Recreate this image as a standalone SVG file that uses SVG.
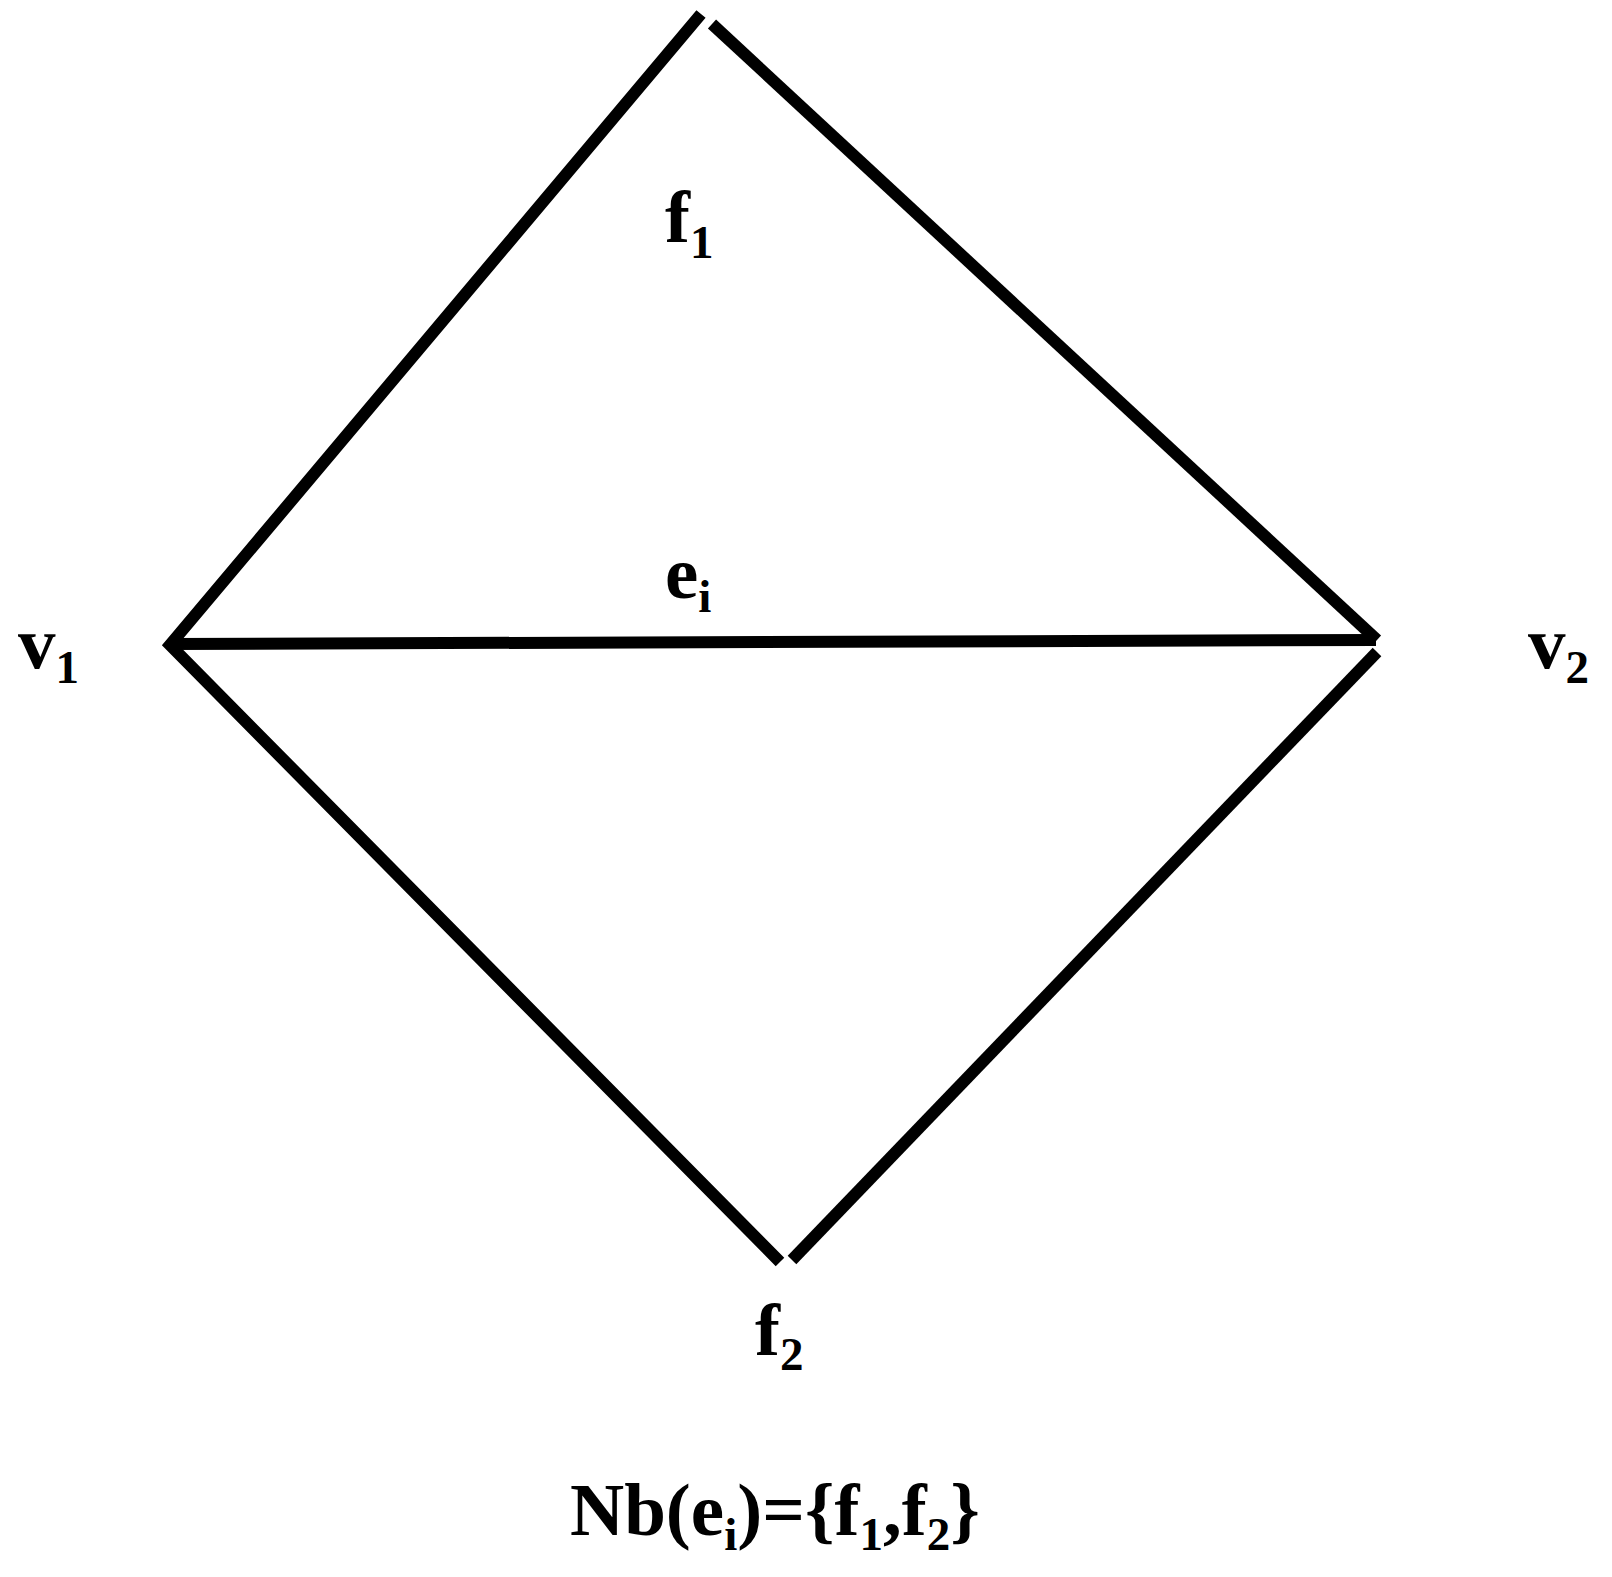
<svg xmlns="http://www.w3.org/2000/svg" width="1612" height="1577" viewBox="0 0 1612 1577">
<style>
.e{stroke:#000;stroke-width:12;fill:none;stroke-linecap:butt;stroke-linejoin:miter}
.t{font-family:"Liberation Serif","Times New Roman",serif;font-weight:bold;font-size:75px;fill:#000}
.s{font-size:47px}
</style>
<rect width="1612" height="1577" fill="#fff"/>
<g id="connectors">
<polyline class="e" points="701,14 170,645 780,1262"/>
<line class="e" x1="712" y1="24" x2="1377" y2="640"/>
<line class="e" x1="1377" y1="652" x2="792" y2="1260"/>
<line class="e" x1="170" y1="644" x2="1376" y2="640"/>
</g>
<g id="v1"><text class="t" x="18" y="668">v<tspan class="s" dy="15">1</tspan></text></g>
<g id="v2"><text class="t" x="1528" y="668">v<tspan class="s" dy="15">2</tspan></text></g>
<g id="f1"><text class="t" x="665" y="242">f<tspan class="s" dy="16">1</tspan></text></g>
<g id="ei"><text class="t" x="665" y="598">e<tspan class="s" dy="14">i</tspan></text></g>
<g id="f2"><text class="t" x="755" y="1355">f<tspan class="s" dy="15">2</tspan></text></g>
<g id="formula"><text class="t" x="570" y="1535">Nb(e<tspan class="s" dy="15">i</tspan><tspan dy="-15">)={f</tspan><tspan class="s" dy="15">1</tspan><tspan dy="-15">,f</tspan><tspan class="s" dy="15">2</tspan><tspan dy="-15">}</tspan></text></g>
</svg>
